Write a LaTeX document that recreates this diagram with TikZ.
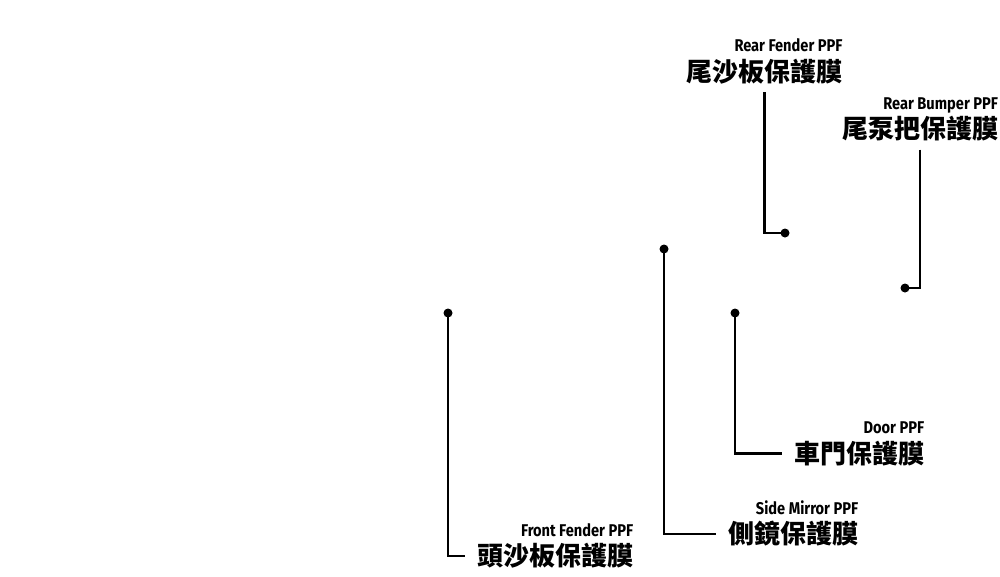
\documentclass[tikz,border=0pt]{standalone}
\usepackage{fontspec}
\newfontfamily\cjkfont{Noto Sans CJK TC}
\newfontfamily\enfont{Fira Sans}[FakeStretch=0.86]
\usetikzlibrary{positioning}

\begin{document}
\begin{tikzpicture}[x=1pt,y=-1pt]
	\tikzstyle{every node}=[inner sep=0pt]
	\tikzstyle{dot}=[circle, fill=black, minimum size=9pt]
	\tikzstyle{cn}=[font=\cjkfont\bfseries\fontsize{26}{26}\selectfont, inner xsep=12pt, text height=22pt, text depth=2.6pt]
	\tikzstyle{en}=[font=\enfont\bfseries\fontsize{17}{17}\selectfont, inner xsep=12pt, text height=11.5pt, text depth=0pt]
	\tikzstyle{lead}=[line width=2.6pt, line cap=butt]
	
	\useasboundingbox (0,0) rectangle (1000,576);
	
	%Punkte
	\node[dot] (ff) at (448,313) {};
	\node[dot] (sm) at (664,249) {};
	\node[dot] (dr) at (735,313) {};
	\node[dot] (rf) at (785,233) {};
	\node[dot] (rb) at (905,288) {};
	
	%Beschriftungen
	\node[cn, anchor=west] (ffcn) at (465,556) {頭沙板保護膜};
	\node[en, above=7pt of ffcn.north east, anchor=south east] (ffen) {Front Fender PPF};
	\node[cn, anchor=west] (smcn) at (716,534) {側鏡保護膜};
	\node[en, above=7pt of smcn.north east, anchor=south east] (smen) {Side Mirror PPF};
	\node[cn, anchor=west] (drcn) at (782,453.5) {車門保護膜};
	\node[en, above=7pt of drcn.north east, anchor=south east] (dren) {Door PPF};
	\node[cn, inner xsep=0pt] (rfcn) at (764.5,71.5) {尾沙板保護膜};
	\node[en, inner xsep=0pt, above=7pt of rfcn.north east, anchor=south east] (rfen) {Rear Fender PPF};
	\node[cn, inner xsep=0pt] (rbcn) at (920,129) {尾泵把保護膜};
	\node[en, inner xsep=0pt, above=7pt of rbcn.north east, anchor=south east] (rben) {Rear Bumper PPF};
	
	%Linien
	\draw[lead] (ff.center) |- (ffcn.west);
	\draw[lead] (sm.center) |- (smcn.west);
	\draw[lead] (dr.center) |- (drcn.west);
	\draw[lead, shorten <=8pt] (rfcn.south) |- (rf.center);
	\draw[lead, shorten <=8pt] (rbcn.south) |- (rb.center);
\end{tikzpicture}
\end{document}
